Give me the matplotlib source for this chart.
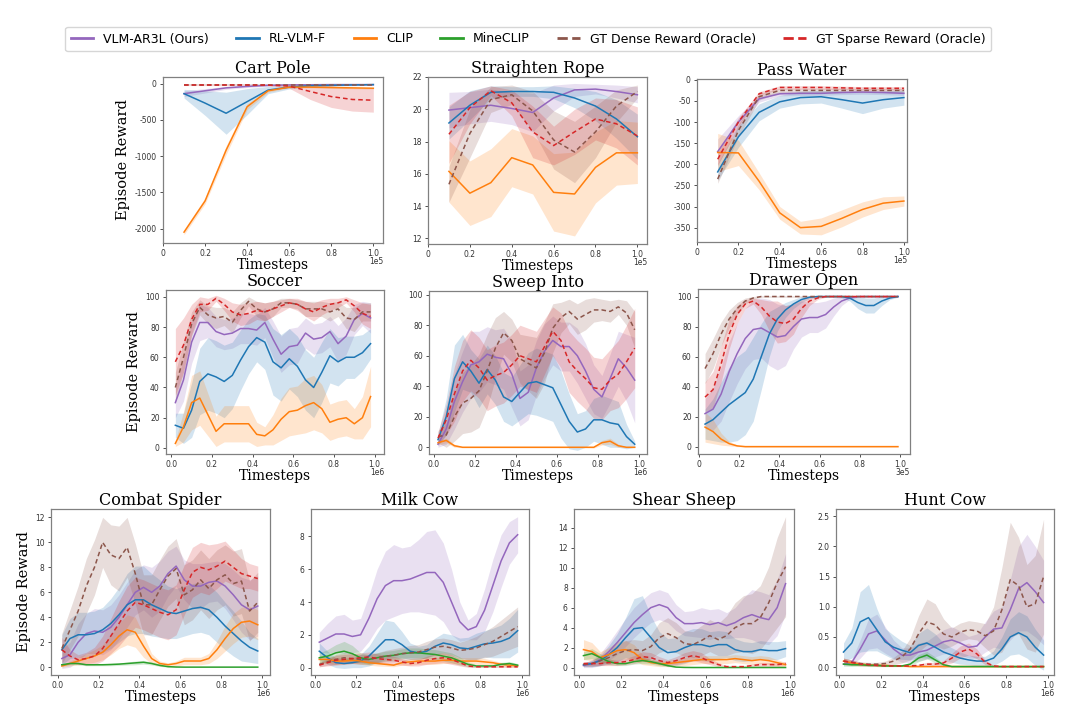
import matplotlib
matplotlib.use("Agg")
import matplotlib.pyplot as plt
from matplotlib.lines import Line2D
import numpy as np

# ---------------- series names / colours ----------------
SERIES = ["VLM-AR3L (Ours)", "RL-VLM-F", "CLIP", "MineCLIP",
          "GT Dense Reward (Oracle)", "GT Sparse Reward (Oracle)"]
COLORS = ["#9467bd", "#1f77b4", "#ff7f0e", "#2ca02c", "#8c564b", "#d62728"]
STYLES = ["-", "-", "-", "-", "--", "--"]

# ---------------- top row (x in 1e5 steps) ----------------
X_TOP = [0.1, 0.2, 0.3, 0.4, 0.5, 0.6, 0.7, 0.8, 0.9, 1.0]

CART_VLM = [-140, -100, -60, -40, -25, -20, -17, -15, -15, -15]
CART_VLM_SD = [40, 30, 20, 15, 10, 8, 8, 8, 8, 8]
CART_RL = [-140, -270, -410, -250, -90, -50, -30, -25, -20, -15]
CART_RL_SD = [60, 170, 290, 180, 50, 25, 15, 10, 10, 10]
CART_CLIP = [-2050, -1620, -920, -320, -100, -50, -50, -55, -60, -65]
CART_CLIP_SD = [35, 40, 60, 40, 20, 10, 10, 10, 10, 10]
CART_DENSE = [-15, -15, -15, -15, -15, -15, -15, -15, -15, -15]
CART_DENSE_SD = [5, 5, 5, 5, 5, 5, 5, 5, 5, 5]
CART_SPARSE = [-20, -20, -20, -20, -22, -35, -110, -180, -220, -230]
CART_SPARSE_SD = [8, 8, 8, 8, 10, 30, 110, 150, 160, 165]

ROPE_VLM = [19.95, 20.1, 20.25, 20.05, 19.8, 20.7, 21.2, 21.25, 21.1, 20.9]
ROPE_VLM_SD = [1.1, 1.0, 1.0, 1.0, 1.2, 0.8, 0.4, 0.3, 0.4, 0.5]
ROPE_RL = [19.15, 20.25, 21.05, 21.1, 21.1, 21.05, 20.7, 20.2, 19.4, 18.3]
ROPE_RL_SD = [1.0, 0.9, 0.4, 0.3, 0.3, 0.4, 0.6, 0.9, 1.2, 1.4]
ROPE_CLIP = [16.15, 14.8, 15.45, 17.0, 16.55, 14.85, 14.75, 16.4, 17.3, 17.3]
ROPE_CLIP_SD = [1.9, 2.0, 2.1, 1.8, 1.8, 2.4, 2.6, 2.2, 2.0, 1.9]
ROPE_DENSE = [15.35, 18.5, 20.6, 20.9, 19.9, 18.1, 17.35, 18.6, 20.2, 21.1]
ROPE_DENSE_SD = [1.1, 1.5, 0.8, 0.6, 1.2, 1.8, 1.9, 1.6, 1.0, 0.4]
ROPE_SPARSE = [18.45, 20.1, 21.15, 20.4, 18.6, 17.75, 18.6, 19.4, 19.1, 18.35]
ROPE_SPARSE_SD = [1.8, 1.0, 0.3, 0.8, 1.6, 1.2, 1.4, 1.3, 1.5, 1.8]

WATER_VLM = [-170, -100, -45, -33, -32, -32, -30, -29, -30, -32]
WATER_VLM_SD = [30, 15, 8, 5, 5, 5, 5, 5, 5, 5]
WATER_RL = [-218, -135, -77, -52, -42, -40, -47, -55, -47, -42]
WATER_RL_SD = [20, 25, 20, 15, 15, 15, 20, 25, 20, 18]
WATER_CLIP = [-172, -173, -240, -315, -350, -347, -328, -307, -292, -287]
WATER_CLIP_SD = [45, 30, 20, 15, 15, 20, 20, 18, 15, 12]
WATER_DENSE = [-235, -120, -40, -25, -25, -25, -25, -25, -25, -25]
WATER_DENSE_SD = [10, 15, 8, 5, 5, 5, 5, 5, 5, 5]
WATER_SPARSE = [-188, -100, -33, -18, -18, -18, -19, -20, -20, -20]
WATER_SPARSE_SD = [15, 10, 5, 4, 4, 4, 4, 4, 4, 4]

# ---------------- metaworld (x in 1e6 / 3e5 steps) ----------------
X_MW = [0.02, 0.06, 0.10, 0.14, 0.18, 0.22, 0.26, 0.30, 0.34, 0.38, 0.42, 0.46, 0.50,
        0.54, 0.58, 0.62, 0.66, 0.70, 0.74, 0.78, 0.82, 0.86, 0.90, 0.94, 0.98]

SOC_VLM = [30, 45, 70, 83, 83, 77, 75, 76, 79, 79, 78, 83, 72, 62, 67, 68, 76, 72, 73, 77, 69, 74, 85, 89, 86]
SOC_VLM_SD = [10, 14, 14, 12, 10, 10, 10, 10, 10, 10, 10, 10, 12, 12, 12, 12, 10, 10, 10, 10, 12, 12, 10, 8, 10]
SOC_RL = [15, 13, 25, 44, 49, 47, 44, 48, 58, 67, 73, 70, 57, 53, 59, 54, 45, 40, 50, 61, 57, 60, 60, 63, 69]
SOC_RL_SD = [8, 10, 18, 22, 24, 24, 24, 22, 20, 18, 16, 18, 22, 22, 20, 20, 20, 20, 20, 18, 16, 14, 14, 12, 10]
SOC_CLIP = [3, 14, 30, 33, 22, 11, 16, 16, 16, 16, 9, 8, 12, 19, 24, 25, 28, 30, 26, 17, 19, 20, 16, 20, 34]
SOC_CLIP_SD = [2, 10, 18, 18, 14, 10, 12, 12, 12, 12, 8, 6, 10, 14, 16, 16, 18, 18, 16, 12, 12, 12, 10, 14, 20]
SOC_DENSE = [40, 60, 82, 93, 88, 86, 87, 83, 91, 97, 92, 90, 92, 96, 96, 95, 92, 92, 92, 90, 92, 86, 85, 90, 90]
SOC_DENSE_SD = [10, 10, 8, 5, 6, 7, 6, 7, 5, 3, 5, 6, 5, 3, 3, 3, 5, 5, 5, 6, 5, 7, 8, 6, 6]
SOC_SPARSE = [57, 68, 85, 95, 95, 99, 95, 90, 88, 89, 91, 90, 92, 94, 96, 95, 92, 90, 93, 95, 96, 98, 94, 89, 87]
SOC_SPARSE_SD = [22, 18, 10, 5, 4, 2, 4, 6, 7, 7, 6, 6, 5, 4, 3, 4, 5, 6, 5, 4, 3, 2, 4, 7, 8]

SWP_VLM = [2, 12, 30, 43, 54, 56, 61, 59, 58, 48, 32, 36, 52, 63, 70, 66, 66, 60, 50, 38, 33, 45, 58, 52, 44]
SWP_VLM_SD = [2, 10, 18, 20, 22, 20, 18, 18, 20, 22, 18, 18, 18, 18, 16, 16, 16, 18, 18, 16, 14, 16, 18, 22, 28]
SWP_RL = [5, 20, 45, 56, 50, 42, 51, 44, 33, 30, 36, 42, 43, 41, 39, 28, 17, 10, 12, 18, 18, 16, 15, 7, 2]
SWP_RL_SD = [4, 12, 22, 18, 14, 16, 16, 16, 16, 16, 18, 20, 22, 22, 22, 22, 18, 12, 12, 14, 16, 16, 15, 8, 2]
SWP_CLIP = [3, 4.5, 1, 0, 0, 0, 0, 0, 0, 0, 0, 0, 0, 0, 0, 0, 0, 0, 0, 0, 3, 4, 1, 0, 0]
SWP_CLIP_SD = [1.5, 1.5, 1, 0.3, 0.3, 0.3, 0.3, 0.3, 0.3, 0.3, 0.3, 0.3, 0.3, 0.3, 0.3, 0.3, 0.3, 0.3, 0.3, 0.5, 1.5, 2, 1, 0.3, 0.3]
SWP_DENSE = [7, 8, 20, 29, 32, 37, 50, 65, 75, 70, 58, 55, 52, 62, 78, 85, 89, 84, 87, 90, 90, 89, 92, 88, 77]
SWP_DENSE_SD = [4, 8, 16, 20, 22, 24, 24, 20, 14, 14, 16, 18, 20, 20, 16, 10, 8, 10, 10, 8, 7, 7, 5, 8, 12]
SWP_SPARSE = [6, 18, 35, 50, 57, 52, 44, 47, 49, 54, 60, 58, 56, 66, 76, 70, 56, 50, 45, 39, 38, 44, 48, 56, 65]
SWP_SPARSE_SD = [4, 10, 18, 20, 20, 20, 20, 20, 20, 20, 20, 20, 20, 18, 16, 18, 20, 20, 20, 20, 20, 20, 22, 24, 26]

X_DO = [0.03, 0.07, 0.11, 0.15, 0.19, 0.23, 0.27, 0.31, 0.35, 0.39, 0.43, 0.47, 0.51,
        0.55, 0.59, 0.63, 0.67, 0.71, 0.75, 0.79, 0.83, 0.87, 0.91, 0.95, 0.99]
DO_VLM = [22, 25, 35, 50, 62, 72, 78, 79, 76, 73, 74, 80, 85, 86, 86, 88, 93, 97, 99, 100, 100, 100, 100, 100, 100]
DO_VLM_SD = [10, 14, 18, 20, 20, 20, 20, 20, 22, 22, 20, 15, 12, 10, 10, 9, 6, 3, 1, 0.5, 0.5, 0.5, 0.5, 0.5, 0.5]
DO_RL = [15, 18, 23, 28, 32, 36, 45, 60, 75, 85, 91, 95, 98, 99.5, 100, 100, 100, 100, 99, 96, 94, 94, 97, 99, 100]
DO_RL_SD = [10, 14, 20, 25, 28, 28, 28, 22, 15, 8, 5, 3, 2, 1, 0.5, 0.5, 0.5, 1, 2, 4, 5, 5, 3, 1, 0.5]
DO_CLIP = [13, 10, 5, 2, 0.5, 0, 0, 0, 0, 0, 0, 0, 0, 0, 0, 0, 0, 0, 0, 0, 0, 0, 0, 0, 0]
DO_CLIP_SD = [10, 8, 4, 1.5, 0.5, 0.2, 0.2, 0.2, 0.2, 0.2, 0.2, 0.2, 0.2, 0.2, 0.2, 0.2, 0.2, 0.2, 0.2, 0.2, 0.2, 0.2, 0.2, 0.2, 0.2]
DO_DENSE = [52, 62, 75, 85, 92, 97, 99, 100, 100, 100, 100, 100, 100, 100, 100, 100, 100, 100, 100, 100, 100, 100, 100, 100, 100]
DO_DENSE_SD = [10, 10, 8, 6, 4, 2, 1, 0.5, 0.5, 0.5, 0.5, 0.5, 0.5, 0.5, 0.5, 0.5, 0.5, 0.5, 0.5, 0.5, 0.5, 0.5, 0.5, 0.5, 0.5]
DO_SPARSE = [33, 38, 55, 75, 88, 95, 97, 93, 87, 83, 82, 85, 92, 97, 99, 100, 100, 100, 100, 100, 100, 100, 100, 100, 100]
DO_SPARSE_SD = [10, 12, 12, 10, 6, 3, 2, 5, 10, 14, 12, 10, 6, 3, 1, 0.5, 0.5, 0.5, 0.5, 0.5, 0.5, 0.5, 0.5, 0.5, 0.5]

# ---------------- minecraft (x in 1e6 steps) ----------------
CS_VLM = [0.7, 1.0, 2.0, 2.7, 2.9, 2.8, 3.2, 4.0, 5.0, 6.0, 6.4, 6.0, 6.5, 7.5, 8.1, 7.0, 6.5, 6.5, 6.8, 6.9, 6.5, 5.8, 5.0, 4.6, 4.9]
CS_VLM_SD = [0.8, 1.0, 1.5, 1.6, 1.8, 1.8, 1.8, 1.8, 1.8, 1.8, 1.8, 2.0, 2.0, 1.8, 1.6, 1.6, 1.8, 1.8, 1.6, 1.6, 1.8, 2.0, 2.2, 2.4, 2.4]
CS_RL = [1.4, 2.3, 2.6, 2.6, 2.7, 3.0, 3.5, 4.2, 5.0, 5.4, 5.4, 5.0, 4.7, 4.4, 4.3, 4.5, 4.7, 4.8, 4.6, 4.0, 3.3, 2.7, 2.1, 1.6, 1.3]
CS_RL_SD = [1.2, 1.6, 1.8, 1.8, 1.8, 1.8, 2.0, 2.2, 2.5, 2.7, 2.7, 2.5, 2.3, 2.1, 2.0, 2.0, 2.0, 2.0, 2.0, 2.0, 1.9, 1.8, 1.6, 1.2, 1.0]
CS_CLIP = [0.1, 0.3, 0.5, 0.7, 0.9, 1.2, 1.8, 2.5, 3.0, 2.8, 1.7, 0.7, 0.3, 0.2, 0.3, 0.5, 0.5, 0.5, 0.7, 1.4, 2.3, 3.1, 3.6, 3.7, 3.4]
CS_CLIP_SD = [0.1, 0.2, 0.3, 0.4, 0.5, 0.6, 0.8, 1.0, 1.2, 1.2, 0.9, 0.4, 0.2, 0.15, 0.2, 0.3, 0.3, 0.3, 0.4, 0.7, 1.0, 1.2, 1.2, 1.2, 1.2]
CS_MINE = [0.2, 0.3, 0.3, 0.2, 0.2, 0.2, 0.22, 0.25, 0.3, 0.35, 0.4, 0.3, 0.15, 0.05, 0.02, 0.01, 0.01, 0.01, 0.01, 0.01, 0.01, 0.01, 0.01, 0.01, 0.01]
CS_MINE_SD = [0.1, 0.1, 0.1, 0.08, 0.08, 0.08, 0.1, 0.1, 0.12, 0.15, 0.15, 0.12, 0.08, 0.04, 0.02, 0.01, 0.01, 0.01, 0.01, 0.01, 0.01, 0.01, 0.01, 0.01, 0.01]
CS_DENSE = [1.5, 3.0, 4.5, 6.5, 8.0, 10.0, 9.0, 8.7, 9.6, 7.5, 5.0, 5.0, 6.2, 7.3, 7.9, 5.8, 6.2, 7.0, 6.3, 7.0, 7.4, 6.7, 6.9, 4.5, 5.2]
CS_DENSE_SD = [1.2, 1.6, 2.0, 2.2, 2.2, 2.0, 2.4, 2.6, 2.4, 2.4, 2.4, 2.4, 2.4, 2.4, 2.4, 2.4, 2.4, 2.4, 2.4, 2.4, 2.4, 2.6, 2.6, 2.4, 2.4]
CS_SPARSE = [1.4, 0.9, 0.6, 0.7, 0.9, 1.5, 2.5, 3.5, 4.5, 5.2, 5.0, 4.7, 4.4, 4.2, 4.6, 6.2, 7.6, 8.0, 7.8, 8.1, 8.5, 8.0, 7.5, 7.3, 7.1]
CS_SPARSE_SD = [1.0, 0.5, 0.4, 0.5, 0.7, 1.0, 1.4, 1.8, 2.0, 2.0, 2.0, 2.0, 2.0, 2.0, 2.0, 2.0, 2.0, 2.0, 2.0, 1.8, 1.6, 1.4, 1.2, 1.0, 1.0]

MC_VLM = [1.55, 1.8, 2.05, 2.05, 1.9, 2.0, 3.0, 4.2, 5.0, 5.3, 5.3, 5.4, 5.6, 5.8, 5.8, 5.2, 4.0, 2.8, 2.3, 2.5, 3.5, 5.0, 6.5, 7.6, 8.1]
MC_VLM_SD = [0.6, 0.9, 1.1, 1.2, 1.0, 1.0, 1.4, 1.8, 2.1, 2.2, 2.0, 2.0, 2.2, 2.5, 2.6, 2.4, 2.0, 1.2, 0.6, 0.8, 1.3, 1.6, 1.6, 1.3, 1.1]
MC_RL = [1.0, 0.6, 0.3, 0.25, 0.3, 0.4, 0.7, 1.2, 1.7, 1.7, 1.4, 1.0, 0.9, 1.0, 1.3, 1.5, 1.4, 1.2, 1.15, 1.3, 1.45, 1.5, 1.6, 1.8, 2.25]
MC_RL_SD = [0.5, 0.4, 0.3, 0.3, 0.3, 0.4, 0.6, 0.9, 1.2, 1.1, 0.8, 0.5, 0.4, 0.4, 0.5, 0.6, 0.6, 0.6, 0.7, 0.8, 0.8, 0.9, 1.0, 1.2, 1.3]
MC_CLIP = [0.5, 0.5, 0.4, 0.4, 0.45, 0.4, 0.3, 0.25, 0.2, 0.15, 0.3, 0.35, 0.4, 0.4, 0.4, 0.45, 0.45, 0.4, 0.4, 0.4, 0.35, 0.3, 0.2, 0.15, 0.1]
MC_CLIP_SD = [0.25, 0.25, 0.2, 0.2, 0.2, 0.2, 0.15, 0.15, 0.12, 0.1, 0.15, 0.2, 0.2, 0.2, 0.2, 0.2, 0.2, 0.2, 0.2, 0.2, 0.2, 0.15, 0.12, 0.1, 0.08]
MC_MINE = [0.6, 0.7, 0.9, 1.0, 0.85, 0.6, 0.5, 0.6, 0.7, 0.75, 0.85, 0.9, 0.9, 0.85, 0.8, 0.7, 0.6, 0.4, 0.2, 0.1, 0.1, 0.1, 0.2, 0.25, 0.15]
MC_MINE_SD = [0.3, 0.4, 0.5, 0.6, 0.5, 0.3, 0.3, 0.3, 0.3, 0.3, 0.3, 0.3, 0.3, 0.3, 0.3, 0.3, 0.3, 0.25, 0.15, 0.08, 0.08, 0.08, 0.12, 0.12, 0.1]
MC_DENSE = [0.2, 0.35, 0.5, 0.6, 0.55, 0.5, 0.5, 0.6, 0.7, 0.75, 0.85, 0.9, 0.95, 1.1, 1.25, 1.3, 1.2, 1.05, 1.1, 1.2, 1.4, 1.6, 1.9, 2.2, 2.5]
MC_DENSE_SD = [0.15, 0.2, 0.3, 0.3, 0.3, 0.3, 0.3, 0.3, 0.35, 0.4, 0.4, 0.45, 0.45, 0.5, 0.5, 0.5, 0.5, 0.5, 0.6, 0.7, 0.8, 0.9, 1.0, 1.1, 1.2]
MC_SPARSE = [0.15, 0.3, 0.45, 0.5, 0.55, 0.6, 0.65, 0.55, 0.5, 0.45, 0.35, 0.25, 0.3, 0.45, 0.55, 0.6, 0.5, 0.3, 0.1, 0.05, 0.05, 0.05, 0.05, 0.05, 0.05]
MC_SPARSE_SD = [0.1, 0.2, 0.3, 0.3, 0.3, 0.3, 0.3, 0.3, 0.25, 0.25, 0.2, 0.15, 0.2, 0.25, 0.3, 0.3, 0.3, 0.2, 0.08, 0.04, 0.04, 0.04, 0.04, 0.04, 0.04]

SS_VLM = [0.2, 0.4, 0.8, 1.6, 2.5, 3.5, 4.5, 5.3, 6.0, 6.3, 6.0, 5.0, 4.4, 4.4, 4.5, 4.3, 4.5, 4.2, 4.5, 5.0, 5.3, 5.0, 4.8, 6.0, 8.4]
SS_VLM_SD = [0.2, 0.4, 0.6, 0.9, 1.2, 1.4, 1.5, 1.5, 1.5, 1.5, 1.5, 1.3, 1.2, 1.3, 1.5, 1.5, 1.4, 1.3, 1.5, 2.0, 2.5, 2.6, 2.5, 2.8, 3.0]
SS_RL = [0.3, 0.4, 0.7, 1.3, 2.0, 3.0, 3.9, 4.0, 3.0, 2.0, 1.5, 1.6, 2.0, 2.3, 2.3, 2.1, 2.3, 2.3, 1.8, 1.6, 1.6, 1.8, 1.7, 1.7, 1.9]
SS_RL_SD = [0.2, 0.3, 0.5, 0.9, 1.4, 2.0, 3.0, 3.2, 2.2, 1.6, 1.4, 1.4, 1.6, 1.6, 1.6, 1.5, 1.4, 1.3, 1.1, 1.0, 0.9, 0.9, 0.9, 0.9, 0.8]
SS_CLIP = [1.8, 1.6, 1.0, 1.3, 1.7, 1.8, 1.5, 0.8, 0.5, 0.4, 0.4, 0.5, 0.6, 0.7, 0.8, 0.8, 0.8, 0.8, 0.9, 0.8, 0.7, 0.8, 0.7, 0.5, 0.3]
SS_CLIP_SD = [1.0, 0.9, 0.6, 0.7, 0.9, 0.9, 0.8, 0.5, 0.3, 0.3, 0.3, 0.3, 0.4, 0.4, 0.4, 0.4, 0.4, 0.4, 0.4, 0.4, 0.4, 0.4, 0.4, 0.3, 0.2]
SS_MINE = [1.2, 1.4, 1.0, 0.6, 0.4, 0.4, 0.6, 0.7, 0.6, 0.4, 0.2, 0.05, 0.02, 0.01, 0.01, 0.01, 0.01, 0.01, 0.01, 0.01, 0.01, 0.01, 0.01, 0.01, 0.01]
SS_MINE_SD = [0.4, 0.5, 0.4, 0.3, 0.2, 0.2, 0.25, 0.3, 0.25, 0.2, 0.1, 0.04, 0.02, 0.01, 0.01, 0.01, 0.01, 0.01, 0.01, 0.01, 0.01, 0.01, 0.01, 0.01, 0.01]
SS_DENSE = [0.3, 0.4, 0.7, 1.0, 1.4, 1.7, 1.8, 1.7, 2.1, 3.0, 3.4, 3.0, 2.4, 2.3, 2.7, 3.2, 2.8, 3.2, 4.0, 4.4, 4.4, 5.0, 6.5, 8.5, 10.1]
SS_DENSE_SD = [0.2, 0.3, 0.5, 0.7, 0.9, 1.0, 1.0, 1.0, 1.2, 1.5, 1.6, 1.5, 1.3, 1.3, 1.5, 1.6, 1.6, 2.0, 2.5, 2.8, 3.0, 3.2, 3.6, 4.5, 5.0]
SS_SPARSE = [0.4, 0.4, 0.4, 0.5, 0.5, 0.6, 0.8, 1.1, 1.0, 0.7, 0.5, 0.7, 1.0, 1.2, 1.0, 0.6, 0.3, 0.1, 0.1, 0.1, 0.2, 0.3, 0.3, 0.3, 0.4]
SS_SPARSE_SD = [0.2, 0.2, 0.2, 0.3, 0.3, 0.3, 0.4, 0.5, 0.5, 0.4, 0.3, 0.4, 0.5, 0.5, 0.5, 0.3, 0.2, 0.08, 0.08, 0.08, 0.15, 0.2, 0.2, 0.2, 0.2]

HC_VLM = [0.05, 0.08, 0.3, 0.55, 0.6, 0.45, 0.3, 0.2, 0.2, 0.25, 0.28, 0.35, 0.42, 0.45, 0.4, 0.33, 0.35, 0.5, 0.63, 0.65, 0.95, 1.3, 1.4, 1.25, 1.07]
HC_VLM_SD = [0.03, 0.05, 0.15, 0.25, 0.28, 0.22, 0.15, 0.12, 0.12, 0.15, 0.15, 0.18, 0.2, 0.22, 0.2, 0.18, 0.2, 0.25, 0.3, 0.35, 0.5, 0.7, 0.8, 0.75, 0.7]
HC_RL = [0.25, 0.4, 0.75, 0.82, 0.62, 0.42, 0.33, 0.28, 0.24, 0.36, 0.4, 0.33, 0.25, 0.2, 0.15, 0.12, 0.1, 0.1, 0.15, 0.3, 0.5, 0.57, 0.5, 0.33, 0.2]
HC_RL_SD = [0.15, 0.25, 0.5, 0.55, 0.35, 0.22, 0.2, 0.15, 0.12, 0.2, 0.25, 0.22, 0.15, 0.12, 0.1, 0.08, 0.08, 0.08, 0.12, 0.2, 0.3, 0.35, 0.35, 0.3, 0.25]
HC_CLIP = [0.1, 0.07, 0.05, 0.04, 0.03, 0.03, 0.02, 0.02, 0.01, 0.01, 0.01, 0.01, 0.01, 0.01, 0.01, 0.01, 0.01, 0.01, 0.01, 0.01, 0.01, 0.01, 0.01, 0.01, 0.01]
HC_CLIP_SD = [0.05, 0.04, 0.03, 0.02, 0.02, 0.02, 0.01, 0.01, 0.01, 0.01, 0.01, 0.01, 0.01, 0.01, 0.01, 0.01, 0.01, 0.01, 0.01, 0.01, 0.01, 0.01, 0.01, 0.01, 0.01]
HC_MINE = [0.05, 0.04, 0.04, 0.03, 0.03, 0.02, 0.02, 0.02, 0.05, 0.15, 0.2, 0.12, 0.04, 0.01, 0.01, 0.01, 0.01, 0.01, 0.01, 0.01, 0.01, 0.01, 0.01, 0.01, 0.01]
HC_MINE_SD = [0.03, 0.03, 0.02, 0.02, 0.02, 0.01, 0.01, 0.01, 0.03, 0.06, 0.06, 0.05, 0.02, 0.01, 0.01, 0.01, 0.01, 0.01, 0.01, 0.01, 0.01, 0.01, 0.01, 0.01, 0.01]
HC_DENSE = [0.1, 0.08, 0.06, 0.05, 0.05, 0.06, 0.1, 0.17, 0.3, 0.55, 0.75, 0.7, 0.55, 0.5, 0.58, 0.62, 0.6, 0.52, 0.6, 0.95, 1.45, 1.35, 1.0, 1.05, 1.5]
HC_DENSE_SD = [0.05, 0.04, 0.03, 0.03, 0.03, 0.04, 0.06, 0.1, 0.18, 0.3, 0.38, 0.35, 0.25, 0.15, 0.15, 0.15, 0.15, 0.2, 0.4, 0.7, 0.95, 0.8, 0.7, 0.8, 0.95]
HC_SPARSE = [0.1, 0.08, 0.05, 0.04, 0.03, 0.02, 0.02, 0.02, 0.02, 0.03, 0.05, 0.05, 0.07, 0.15, 0.25, 0.3, 0.22, 0.08, 0.02, 0.01, 0.01, 0.01, 0.01, 0.01, 0.01]
HC_SPARSE_SD = [0.05, 0.04, 0.03, 0.02, 0.02, 0.01, 0.01, 0.01, 0.01, 0.02, 0.03, 0.03, 0.04, 0.08, 0.1, 0.1, 0.08, 0.04, 0.01, 0.01, 0.01, 0.01, 0.01, 0.01, 0.01]

# ---------------- tick labels ----------------
XT = [0, 0.2, 0.4, 0.6, 0.8, 1.0]
XL_INT0 = ["0", "0.2", "0.4", "0.6", "0.8", "1.0"]
XL_FLT0 = ["0.0", "0.2", "0.4", "0.6", "0.8", "1.0"]

panels = [
    dict(title="Cart Pole", x=X_TOP,
         s=[(0, CART_VLM, CART_VLM_SD), (1, CART_RL, CART_RL_SD), (2, CART_CLIP, CART_CLIP_SD),
            (4, CART_DENSE, CART_DENSE_SD), (5, CART_SPARSE, CART_SPARSE_SD)],
         pos=[163, 77, 383, 243], ylim=(-2200, 90),
         yt=[0, -500, -1000, -1500, -2000], ytl=["0", "-500", "-1000", "-1500", "-2000"],
         xlim=(0, 1.046), xl=XL_INT0, off="1e5", ylab=True),
    dict(title="Straighten Rope", x=X_TOP,
         s=[(0, ROPE_VLM, ROPE_VLM_SD), (1, ROPE_RL, ROPE_RL_SD), (2, ROPE_CLIP, ROPE_CLIP_SD),
            (4, ROPE_DENSE, ROPE_DENSE_SD), (5, ROPE_SPARSE, ROPE_SPARSE_SD)],
         pos=[428, 77, 647, 244], ylim=(11.65, 22),
         yt=[12, 14, 16, 18, 20, 22], ytl=["12", "14", "16", "18", "20", "22"],
         xlim=(0, 1.046), xl=XL_INT0, off="1e5", ylab=False),
    dict(title="Pass Water", x=X_TOP,
         s=[(0, WATER_VLM, WATER_VLM_SD), (1, WATER_RL, WATER_RL_SD), (2, WATER_CLIP, WATER_CLIP_SD),
            (4, WATER_DENSE, WATER_DENSE_SD), (5, WATER_SPARSE, WATER_SPARSE_SD)],
         pos=[697, 79, 907, 242], ylim=(-384, 2),
         yt=[0, -50, -100, -150, -200, -250, -300, -350],
         ytl=["0", "-50", "-100", "-150", "-200", "-250", "-300", "-350"],
         xlim=(0, 1.015), xl=XL_INT0, off="1e5", ylab=False),
    dict(title="Soccer", x=X_MW,
         s=[(0, SOC_VLM, SOC_VLM_SD), (1, SOC_RL, SOC_RL_SD), (2, SOC_CLIP, SOC_CLIP_SD),
            (4, SOC_DENSE, SOC_DENSE_SD), (5, SOC_SPARSE, SOC_SPARSE_SD)],
         pos=[166, 290, 384, 454], ylim=(-4, 104.5),
         yt=[0, 20, 40, 60, 80, 100], ytl=["0", "20", "40", "60", "80", "100"],
         xlim=(-0.026, 1.046), xl=XL_FLT0, off="1e6", ylab=True),
    dict(title="Sweep Into", x=X_MW,
         s=[(0, SWP_VLM, SWP_VLM_SD), (1, SWP_RL, SWP_RL_SD), (2, SWP_CLIP, SWP_CLIP_SD),
            (4, SWP_DENSE, SWP_DENSE_SD), (5, SWP_SPARSE, SWP_SPARSE_SD)],
         pos=[429, 291, 647, 454], ylim=(-4.4, 102.4),
         yt=[0, 20, 40, 60, 80, 100], ytl=["0", "20", "40", "60", "80", "100"],
         xlim=(-0.024, 1.04), xl=XL_FLT0, off="1e6", ylab=False),
    dict(title="Drawer Open", x=X_DO,
         s=[(0, DO_VLM, DO_VLM_SD), (1, DO_RL, DO_RL_SD), (2, DO_CLIP, DO_CLIP_SD),
            (4, DO_DENSE, DO_DENSE_SD), (5, DO_SPARSE, DO_SPARSE_SD)],
         pos=[698, 289, 910, 454], ylim=(-4.9, 105),
         yt=[0, 20, 40, 60, 80, 100], ytl=["0", "20", "40", "60", "80", "100"],
         xlim=(-0.005, 1.05), xl=XL_INT0, off="3e5", ylab=False),
    dict(title="Combat Spider", x=X_MW,
         s=[(0, CS_VLM, CS_VLM_SD), (1, CS_RL, CS_RL_SD), (2, CS_CLIP, CS_CLIP_SD), (3, CS_MINE, CS_MINE_SD),
            (4, CS_DENSE, CS_DENSE_SD), (5, CS_SPARSE, CS_SPARSE_SD)],
         pos=[51, 509, 270, 675], ylim=(-0.62, 12.67),
         yt=[0, 2, 4, 6, 8, 10, 12], ytl=["0", "2", "4", "6", "8", "10", "12"],
         xlim=(-0.033, 1.04), xl=XL_FLT0, off="1e6", ylab=True),
    dict(title="Milk Cow", x=X_MW,
         s=[(0, MC_VLM, MC_VLM_SD), (1, MC_RL, MC_RL_SD), (2, MC_CLIP, MC_CLIP_SD), (3, MC_MINE, MC_MINE_SD),
            (4, MC_DENSE, MC_DENSE_SD), (5, MC_SPARSE, MC_SPARSE_SD)],
         pos=[311, 509, 529, 675], ylim=(-0.45, 9.67),
         yt=[0, 2, 4, 6, 8], ytl=["0", "2", "4", "6", "8"],
         xlim=(-0.02, 1.035), xl=XL_FLT0, off="1e6", ylab=False),
    dict(title="Shear Sheep", x=X_MW,
         s=[(0, SS_VLM, SS_VLM_SD), (1, SS_RL, SS_RL_SD), (2, SS_CLIP, SS_CLIP_SD), (3, SS_MINE, SS_MINE_SD),
            (4, SS_DENSE, SS_DENSE_SD), (5, SS_SPARSE, SS_SPARSE_SD)],
         pos=[574, 509, 794, 675], ylim=(-0.74, 15.87),
         yt=[0, 2, 4, 6, 8, 10, 12, 14], ytl=["0", "2", "4", "6", "8", "10", "12", "14"],
         xlim=(-0.025, 1.02), xl=XL_FLT0, off="1e6", ylab=False),
    dict(title="Hunt Cow", x=X_MW,
         s=[(0, HC_VLM, HC_VLM_SD), (1, HC_RL, HC_RL_SD), (2, HC_CLIP, HC_CLIP_SD), (3, HC_MINE, HC_MINE_SD),
            (4, HC_DENSE, HC_DENSE_SD), (5, HC_SPARSE, HC_SPARSE_SD)],
         pos=[836, 509, 1054, 675], ylim=(-0.13, 2.62),
         yt=[0.0, 0.5, 1.0, 1.5, 2.0, 2.5], ytl=["0.0", "0.5", "1.0", "1.5", "2.0", "2.5"],
         xlim=(-0.016, 1.03), xl=XL_FLT0, off="1e6", ylab=False),
]

W, H = 1080, 712
fig = plt.figure(figsize=(W / 100, H / 100), dpi=100)
SERIF = "DejaVu Serif"
SPINE = "#808080"

for p in panels:
    l, t, r, b = p["pos"]
    ax = fig.add_axes([l / W, 1 - b / H, (r - l) / W, (b - t) / H])
    x = np.array(p["x"])
    for idx, m, sd in p["s"]:
        m = np.array(m, float)
        sd = np.array(sd, float)
        ax.fill_between(x, m - sd, m + sd, color=COLORS[idx], alpha=0.2, linewidth=0)
    for idx, m, sd in p["s"]:
        ax.plot(x, m, color=COLORS[idx], linestyle=STYLES[idx], linewidth=1.1,
                dashes=(3, 2) if STYLES[idx] == "--" else (None, None))
    ax.set_xlim(*p["xlim"])
    ax.set_ylim(*p["ylim"])
    ax.set_xticks(XT)
    ax.set_xticklabels(p["xl"])
    ax.set_yticks(p["yt"])
    ax.set_yticklabels(p["ytl"])
    ax.tick_params(labelsize=5.5, length=2.5, width=0.6, colors="#333333", pad=2)
    for s in ax.spines.values():
        s.set_color(SPINE)
        s.set_linewidth(0.9)
    ax.set_title(p["title"], family=SERIF, fontsize=11.5, pad=3)
    ax.set_xlabel("Timesteps", family=SERIF, fontsize=10, labelpad=0)
    if p["ylab"]:
        ax.set_ylabel("Episode Reward", family=SERIF, fontsize=10.5, labelpad=3)
    ax.text(1.0, -0.085, p["off"], transform=ax.transAxes, ha="right", va="top",
            fontsize=5.5, color="#333333")

handles = [Line2D([0], [0], color=COLORS[i], linestyle=STYLES[i], linewidth=2) for i in range(6)]
fig.legend(handles, SERIES, loc="center", bbox_to_anchor=(528 / W, 1 - 39 / H), ncol=6,
           fontsize=9, frameon=True, edgecolor="#cccccc", fancybox=True,
           columnspacing=2.2, handlelength=1.8, handletextpad=0.8, borderpad=0.45)

fig.savefig("out.png", dpi=100, facecolor="white")
